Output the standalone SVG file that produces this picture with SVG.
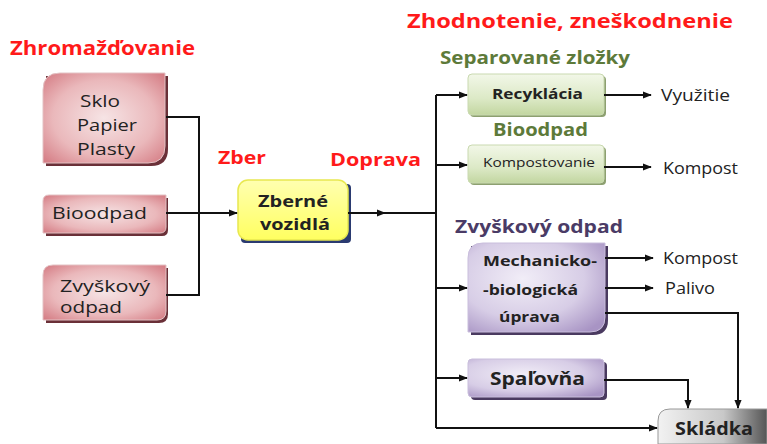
<svg xmlns="http://www.w3.org/2000/svg" width="767" height="444" viewBox="0 0 767 444">
<defs>
<radialGradient id="gPink" cx="50%" cy="50%" r="70%">
<stop offset="0" stop-color="#f6e4e5"/><stop offset="0.6" stop-color="#eab8bb"/><stop offset="1" stop-color="#d47a82"/>
</radialGradient>
<linearGradient id="gGreen" x1="0" y1="0" x2="0" y2="1">
<stop offset="0" stop-color="#f2f7e8"/><stop offset="0.6" stop-color="#dce9c6"/><stop offset="1" stop-color="#c2d6a0"/>
</linearGradient>
<radialGradient id="gPurple" cx="40%" cy="40%" r="75%">
<stop offset="0" stop-color="#f1edf7"/><stop offset="0.6" stop-color="#d7cde6"/><stop offset="1" stop-color="#a894c4"/>
</radialGradient>
<linearGradient id="gYellow" x1="0" y1="0" x2="0" y2="1">
<stop offset="0" stop-color="#ffffb0"/><stop offset="1" stop-color="#ffff60"/>
</linearGradient>
<linearGradient id="gGray" x1="0" y1="0" x2="1" y2="0">
<stop offset="0" stop-color="#f2f2f2"/><stop offset="0.6" stop-color="#c8c8c8"/><stop offset="1" stop-color="#555"/>
</linearGradient>
<marker id="ah" viewBox="0 0 10 10" refX="9" refY="5" markerWidth="9" markerHeight="9" markerUnits="userSpaceOnUse" orient="auto">
<path d="M0,1 L10,5 L0,9 z" fill="#111"/>
</marker>
</defs>
<style>
text{font-family:"Open Sans","Liberation Sans",sans-serif;}
.red{fill:#ff1a1a;font-weight:bold;}
.grn{fill:#5d7a3a;font-weight:bold;}
.pur{fill:#4a3b66;font-weight:bold;}
.lbl{fill:#222;font-size:16px;}
.b{fill:#222;font-weight:bold;}
.ln{fill:none;stroke:#111;stroke-width:2;}
.sh{fill:#6a3038;}
</style>
<rect width="767" height="444" fill="#fff"/>

<text class="red" x="10" y="55" font-size="19" textLength="185" lengthAdjust="spacingAndGlyphs">Zhromažďovanie</text>
<text class="red" x="218" y="164" font-size="18" textLength="48" lengthAdjust="spacingAndGlyphs">Zber</text>
<text class="red" x="330" y="166" font-size="18" textLength="91" lengthAdjust="spacingAndGlyphs">Doprava</text>
<text class="red" x="407" y="28" font-size="20" textLength="326" lengthAdjust="spacingAndGlyphs">Zhodnotenie, zneškodnenie</text>
<text class="grn" x="440" y="64" font-size="17" textLength="190" lengthAdjust="spacingAndGlyphs">Separované zložky</text>
<text class="grn" x="493" y="136" font-size="17" textLength="95" lengthAdjust="spacingAndGlyphs">Bioodpad</text>
<text class="pur" x="455" y="233" font-size="17" textLength="168" lengthAdjust="spacingAndGlyphs">Zvyškový odpad</text>

<g id="n-sklo">
<path class="sh" d="M46,76 H168 V149 Q168,166 151,166 H46 Z"/>
<path d="M60,73 H165 V146 Q165,163 148,163 H43 V90 Q43,73 60,73 Z" fill="url(#gPink)" stroke="#e3c2c4"/>
<text class="lbl" x="80" y="107" textLength="40" lengthAdjust="spacingAndGlyphs">Sklo</text>
<text class="lbl" x="77" y="131" textLength="60" lengthAdjust="spacingAndGlyphs">Papier</text>
<text class="lbl" x="77" y="155" textLength="58" lengthAdjust="spacingAndGlyphs">Plasty</text>
</g>
<g id="n-bioodpad">
<path class="sh" d="M46,198 H168 V230 Q168,236 162,236 H46 Z"/>
<path d="M49,195 H166 V227 Q166,233 160,233 H43 V201 Q43,195 49,195 Z" fill="url(#gPink)" stroke="#e3c2c4"/>
<text class="lbl" x="52" y="219" textLength="95" lengthAdjust="spacingAndGlyphs">Bioodpad</text>
</g>
<g id="n-zvyskovy">
<path class="sh" d="M46,268 H168 V314 Q168,323 159,323 H46 Z"/>
<path d="M53,265 H166 V311 Q166,320 157,320 H43 V275 Q43,265 53,265 Z" fill="url(#gPink)" stroke="#e3c2c4"/>
<text class="lbl" x="60" y="292" textLength="90" lengthAdjust="spacingAndGlyphs">Zvyškový</text>
<text class="lbl" x="60" y="313" textLength="62" lengthAdjust="spacingAndGlyphs">odpad</text>
</g>
<g id="n-vozidla">
<rect x="241" y="184" width="110" height="59" rx="4" fill="#2a3a70"/>
<rect x="238" y="180" width="110" height="60" rx="10" fill="url(#gYellow)" stroke="#e8e850" stroke-width="1.5"/>
<text class="b" x="258" y="207" font-size="16" textLength="70" lengthAdjust="spacingAndGlyphs">Zberné</text>
<text class="b" x="260" y="230" font-size="16" textLength="70" lengthAdjust="spacingAndGlyphs">vozidlá</text>
</g>
<g id="n-recyklacia">
<rect x="470" y="76" width="136" height="41" rx="4" fill="#8da070"/>
<rect x="468" y="74" width="136" height="41" rx="4" fill="url(#gGreen)" stroke="#c9d9b0"/>
<text class="b" x="492" y="99" font-size="15" textLength="91" lengthAdjust="spacingAndGlyphs">Recyklácia</text>
</g>
<g id="n-kompostovanie">
<rect x="470" y="147" width="136" height="38" rx="4" fill="#8da070"/>
<rect x="468" y="145" width="136" height="38" rx="4" fill="url(#gGreen)" stroke="#c9d9b0"/>
<text x="483" y="167" font-size="13" fill="#222" textLength="112" lengthAdjust="spacingAndGlyphs">Kompostovanie</text>
</g>
<g id="n-mbu">
<path d="M471,246 H608 V320 Q608,335 593,335 H471 Z" fill="#4a3a60"/>
<path d="M483,243 H605 V317 Q605,332 590,332 H468 V258 Q468,243 483,243 Z" fill="url(#gPurple)" stroke="#c9bedc"/>
<text class="b" x="483" y="266" font-size="15" textLength="114" lengthAdjust="spacingAndGlyphs">Mechanicko-</text>
<text class="b" x="483" y="295" font-size="15" textLength="95" lengthAdjust="spacingAndGlyphs">-biologická</text>
<text class="b" x="499" y="322" font-size="15" textLength="61" lengthAdjust="spacingAndGlyphs">úprava</text>
</g>
<g id="n-spalovna">
<rect x="471" y="362" width="136" height="38" rx="4" fill="#4a3a60"/>
<rect x="468" y="359" width="136" height="38" rx="4" fill="url(#gPurple)" stroke="#c9bedc"/>
<text class="b" x="490" y="385" font-size="17" textLength="95" lengthAdjust="spacingAndGlyphs">Spaľovňa</text>
</g>
<g id="n-skladka">
<path d="M670,409 H767 V444 H658 V421 Q658,409 670,409 Z" fill="url(#gGray)" stroke="#999"/>
<text class="b" x="675" y="435" font-size="18" textLength="78" lengthAdjust="spacingAndGlyphs">Skládka</text>
</g>

<g id="outputs">
<text class="lbl" x="661" y="101" font-size="15" textLength="69" lengthAdjust="spacingAndGlyphs">Využitie</text>
<text class="lbl" x="663" y="174" font-size="15" textLength="75" lengthAdjust="spacingAndGlyphs">Kompost</text>
<text class="lbl" x="663" y="264" font-size="15" textLength="75" lengthAdjust="spacingAndGlyphs">Kompost</text>
<text class="lbl" x="665" y="294" font-size="15" textLength="50" lengthAdjust="spacingAndGlyphs">Palivo</text>
</g>

<g id="connectors">
<path class="ln" d="M166,117 H199 V295 H166"/>
<path class="ln" d="M166,213 H237" marker-end="url(#ah)"/>
<path class="ln" d="M348,213 H385" marker-end="url(#ah)"/>
<path class="ln" d="M384,213 H436"/>
<path class="ln" d="M436,95 V428"/>
<path class="ln" d="M436,95 H467" marker-end="url(#ah)"/>
<path class="ln" d="M436,165 H467" marker-end="url(#ah)"/>
<path class="ln" d="M436,288 H467" marker-end="url(#ah)"/>
<path class="ln" d="M436,378 H467" marker-end="url(#ah)"/>
<path class="ln" d="M436,428 H657" marker-end="url(#ah)"/>
<path class="ln" d="M604,95 H651" marker-end="url(#ah)"/>
<path class="ln" d="M604,167 H651" marker-end="url(#ah)"/>
<path class="ln" d="M605,258 H653" marker-end="url(#ah)"/>
<path class="ln" d="M605,288 H653" marker-end="url(#ah)"/>
<path class="ln" d="M605,313 H738 V408" marker-end="url(#ah)"/>
<path class="ln" d="M604,380 H688 V408" marker-end="url(#ah)"/>
</g>
</svg>
